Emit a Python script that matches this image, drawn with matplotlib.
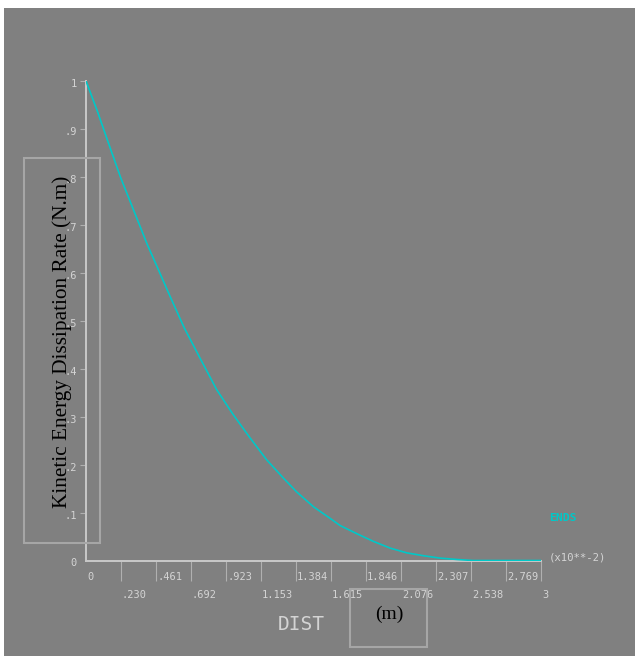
import matplotlib
matplotlib.use("Agg")
import matplotlib.pyplot as plt
from matplotlib.patches import Rectangle
from matplotlib.transforms import offset_copy

# Kinetic energy dissipation rate along the path (DIST in 1e-2 m)
dist = [0.0, 0.075, 0.152, 0.229, 0.316, 0.404, 0.492, 0.554, 0.648, 0.752,
        0.862, 0.971, 1.081, 1.191, 1.301, 1.389, 1.5, 1.609, 1.675, 1.785,
        1.894, 2.004, 2.114, 2.224, 2.334, 2.45, 2.55, 3.0]
rate = [1.0, 0.937, 0.867, 0.798, 0.729, 0.659, 0.596, 0.551, 0.485, 0.422,
        0.356, 0.304, 0.256, 0.210, 0.172, 0.143, 0.112, 0.088, 0.073, 0.056,
        0.040, 0.026, 0.016, 0.010, 0.005, 0.002, 0.0, 0.0]

x_ticks = [3 * k / 13 for k in range(1, 14)]
x_labels = ["0", ".230", ".461", ".692", ".923", "1.153", "1.384", "1.615",
            "1.846", "2.076", "2.307", "2.538", "2.769", "3"]
y_ticks = [0.1 * k for k in range(1, 11)]
y_labels = ["0", ".1", ".2", ".3", ".4", ".5", ".6", ".7", ".8", ".9", "1"]

BG = "#808080"
AXC = "#c8c8c8"
TXT = "#d4d4d4"
CURVE = "#00c8c8"

W, H = 635, 656
fig = plt.figure(figsize=(W / 100, H / 100), dpi=100, facecolor="white")

# grey plot window, kept underneath the axes
fig.patches.append(Rectangle((4 / W, 0), 1 - 4 / W, 1 - 8 / H,
                             transform=fig.transFigure, facecolor=BG,
                             edgecolor="none", zorder=-5))

ax = fig.add_axes([86 / W, 1 - 560.5 / H, 455 / W, 479.5 / H])
ax.set_zorder(1)
ax.set_facecolor("none")
ax.plot(dist, rate, color=CURVE, lw=1.2, zorder=3)
ax.set_xlim(0, 3)
ax.set_ylim(0, 1)

for s in ["top", "right"]:
    ax.spines[s].set_visible(False)
for s in ["left", "bottom"]:
    ax.spines[s].set_color(AXC)
    ax.spines[s].set_linewidth(1.4)

ax.set_xticks(x_ticks)
ax.set_yticks(y_ticks)
ax.set_xticklabels([])
ax.set_yticklabels([])
ax.tick_params(axis="x", direction="out", length=14.4, width=0.8, color="#b0b0b0")
ax.tick_params(axis="y", direction="out", length=4.5, width=0.8, color="#b0b0b0")

# ANSYS style staggered x labels, left-aligned on their ticks
tick_font = dict(family="DejaVu Sans Mono", fontsize=7.5, color=TXT)
upper = offset_copy(ax.get_xaxis_transform(), fig=fig, x=1, y=-12, units="dots")
lower = offset_copy(ax.get_xaxis_transform(), fig=fig, x=1, y=-30, units="dots")
for k, lab in enumerate(x_labels):
    xv = 3 * k / 13
    ax.text(xv, 0, lab, transform=upper if k % 2 == 0 else lower,
            ha="left", va="top", clip_on=False, **tick_font)

ytr = offset_copy(ax.get_yaxis_transform(), fig=fig, x=-9, y=-3, units="dots")
for k, lab in enumerate(y_labels):
    ax.text(0, 0.1 * k, lab, transform=ytr, ha="right", va="center",
            clip_on=False, **tick_font)

fig.text(301 / W, 1 - 625 / H, "DIST", family="DejaVu Sans Mono", fontsize=14,
         color=TXT, ha="center", va="center")
fig.text(549 / W, 1 - 518 / H, "ENDS", family="DejaVu Sans Mono", fontsize=8.2,
         color=CURVE, ha="left", va="center", fontweight="bold")
fig.text(549 / W, 1 - 557 / H, "(x10**-2)", family="DejaVu Sans Mono",
         fontsize=7.7, color=TXT, ha="left", va="center")

# added axis titles in boxes
box = dict(facecolor="none", edgecolor="#a6a6a6", lw=1.5,
           transform=fig.transFigure, zorder=5)
fig.patches.append(Rectangle((24 / W, 1 - 543 / H), 76 / W, 385 / H, **box))
fig.patches.append(Rectangle((350 / W, 1 - 647 / H), 77 / W, 58 / H, **box))

fig.text(62 / W, 1 - 342 / H, "Kinetic Energy Dissipation Rate (N.m)",
         family="Liberation Serif", fontsize=15.3, color="black", rotation=90,
         ha="center", va="center", zorder=6)
fig.text(389 / W, 1 - 614 / H, "(m)", family="Liberation Serif", fontsize=14,
         color="black", ha="center", va="center", zorder=6)

fig.savefig("out.png", dpi=100, facecolor="white")
